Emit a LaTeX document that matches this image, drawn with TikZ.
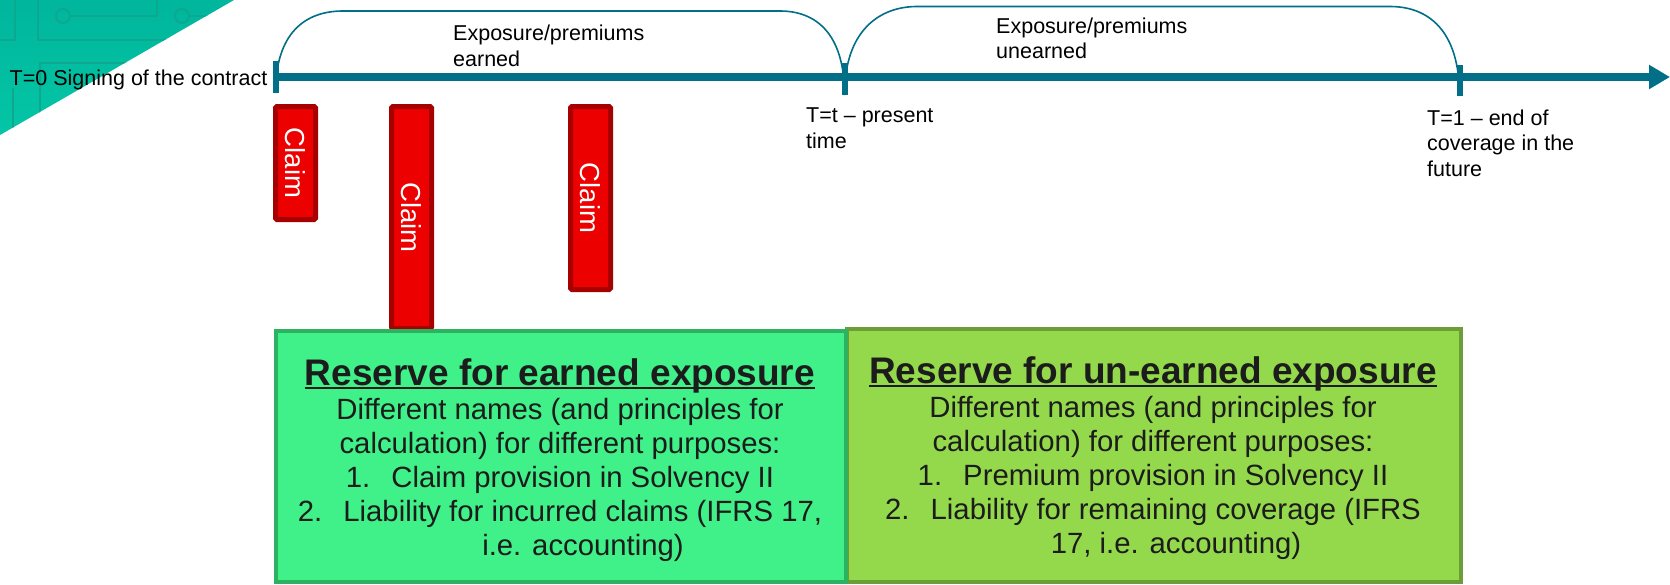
\documentclass[tikz,border=0pt]{standalone}
\usepackage{fontspec}
\setmainfont{Liberation Sans}
\usetikzlibrary{arrows.meta}

\definecolor{axisteal}{RGB}{0,111,135}
\definecolor{cornertop}{RGB}{0,182,156}
\definecolor{cornerbot}{RGB}{4,198,166}
\definecolor{circuit}{RGB}{14,168,144}
\definecolor{claimred}{RGB}{236,0,0}
\definecolor{claimedge}{RGB}{166,0,0}
\definecolor{earnfill}{RGB}{64,240,136}
\definecolor{earnedge}{RGB}{44,178,96}
\definecolor{unearnfill}{RGB}{148,217,75}
\definecolor{unearnedge}{RGB}{108,158,56}
\definecolor{bodytext}{RGB}{28,28,28}

% underline set close under the baseline
\newcommand\ulhead[1]{\setbox0\hbox{#1}\rlap{\rule[-0.12em]{\wd0}{0.075em}}\box0}

\begin{document}
\begin{tikzpicture}[x=1pt,y=-1pt,
  lbl/.style={font=\fontsize{21.5}{25.5}\selectfont, inner sep=0pt, align=left, anchor=base west},
  claimbox/.style={draw=claimedge, fill=claimred, line width=5pt, rounded corners=1.5pt,
    rotate=-90, minimum height=40pt, inner sep=0pt, text=white,
    font=\fontsize{27.5}{30}\selectfont},
  tickmark/.style={draw=axisteal, line width=6pt},
  spanarc/.style={draw=axisteal, line width=1.6pt},
  reservebox/.style={line width=4pt, inner sep=0pt},
  headtxt/.style={font=\fontsize{37}{40}\bfseries\selectfont, text=bodytext, inner sep=0pt, anchor=base},
  bodytxt/.style={font=\fontsize{29.3}{34}\selectfont, text=bodytext, inner sep=0pt, align=center, anchor=base},
]
\useasboundingbox (0,0) rectangle (1670,584);

% corner decoration with circuit traces
\begin{scope}
  \clip (0,0) -- (234,0) -- (0,135) -- cycle;
  \shade[top color=cornertop, bottom color=cornerbot] (0,0) rectangle (240,140);
  \begin{scope}[draw=circuit, line width=2pt]
    \draw (15,0) -- (15,40) -- (0,40);
    \draw (38,0) -- (38,40) -- (200,40);
    \draw (63,16) circle (7);
    \draw (70,16) -- (157,16) -- (157,0);
    \draw (182,16) circle (7);
    \draw (189,16) -- (230,16);
    \draw (40,150) -- (40,63) -- (200,63);
    \draw (13,150) -- (13,88);
  \end{scope}
\end{scope}

% time axis and its marks
\coordinate (t0) at (275.5,77);
\coordinate (tt) at (844.5,77);
\coordinate (t1) at (1459.5,77);
\coordinate (tend) at (1670,77);
\draw[axisteal, line width=8pt, -{Triangle[length=21pt,width=23pt]}] (t0) -- (tend);
\draw[tickmark] ([yshift=-16pt]t0) -- ([yshift=16pt]t0);
\draw[tickmark] ([yshift=-18pt]tt) -- ([yshift=14pt]tt);
\draw[tickmark] ([yshift=-19pt]t1) -- ([yshift=12pt]t1);

% spans over the axis
\draw[spanarc] ([yshift=-16pt]t0) .. controls (275.5,33) and (305,11) .. (343,11)
  -- (780,11) .. controls (815.5,11) and (844.5,33) .. ([yshift=-18pt]tt);
\draw[spanarc] ([yshift=-18pt]tt) .. controls (844.5,30) and (880,6.5) .. (917,6.5)
  -- (1390,6.5) .. controls (1428,6.5) and (1459.5,30) .. ([yshift=-19pt]t1);

% axis labels (a multi-line node sits on its last baseline)
\node[font=\fontsize{21.5}{25.5}\selectfont, inner sep=0pt, anchor=base east] (start) at (267.5,85) {T=0 Signing of the contract};
\node[lbl] (earned) at (453,66) {Exposure/premiums\\earned};
\node[lbl] (unearned) at (996,58.5) {Exposure/premiums\\unearned};
\node[lbl] (now) at (806,148) {T=t -- present\\time};
\node[lbl] (end) at (1427,176) {T=1 -- end of\\coverage in the\\future};

% claims
\node[claimbox, minimum width=113pt] (c1) at (295.5,163) {Claim};
\node[claimbox, minimum width=222pt] (c2) at (411.5,217.5) {Claim};
\node[claimbox, minimum width=183pt] (c3) at (590.5,198) {Claim};

% reserve boxes
\node[reservebox, draw=unearnedge, fill=unearnfill, minimum width=614pt, minimum height=253pt] (ub) at (1154,455.5) {};
\node[reservebox, draw=earnedge, fill=earnfill, minimum width=570pt, minimum height=251pt] (eb) at (560.5,456.5) {};

\node[headtxt] (ehead) at (560,385) {\ulhead{Reserve for earned exposure}};
\node[bodytxt] (ebody) at (560,555) {Different names (and principles for\\
  calculation) for different purposes:\\
  1.\hspace{0.72em}Claim provision in Solvency II\\
  2.\hspace{0.72em}Liability for incurred claims (IFRS 17,\\
  \hspace*{46pt}i.e. accounting)};

\node[headtxt] (uhead) at (1153,383) {\ulhead{Reserve for un-earned exposure}};
\node[bodytxt] (ubody) at (1153,553) {Different names (and principles for\\
  calculation) for different purposes:\\
  1.\hspace{0.72em}Premium provision in Solvency II\\
  2.\hspace{0.72em}Liability for remaining coverage (IFRS\\
  \hspace*{46pt}17, i.e. accounting)};
\end{tikzpicture}
\end{document}
